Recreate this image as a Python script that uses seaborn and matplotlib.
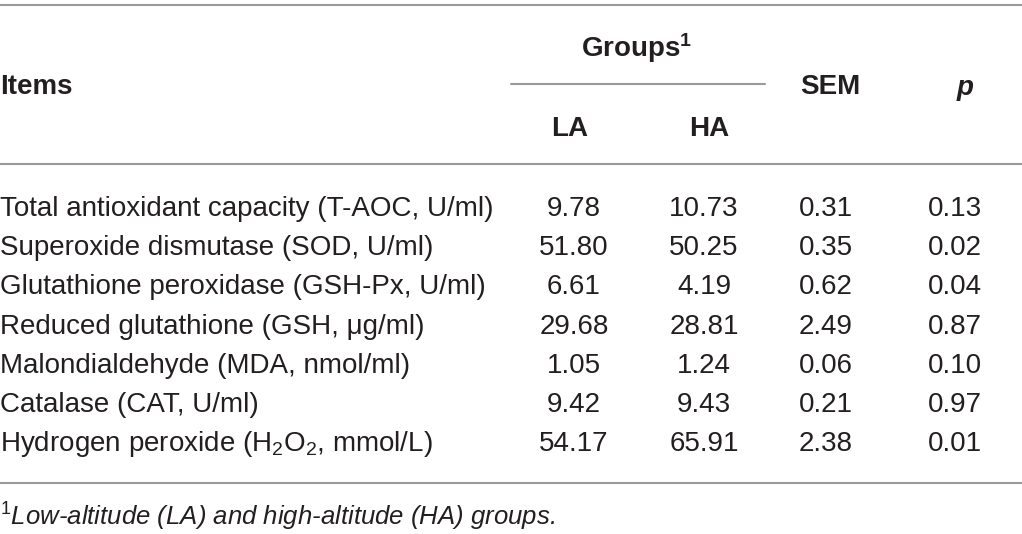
import seaborn as sns
import matplotlib.pyplot as plt

items = [
    "Total antioxidant capacity (T-AOC, U/ml)",
    "Superoxide dismutase (SOD, U/ml)",
    "Glutathione peroxidase (GSH-Px, U/ml)",
    "Reduced glutathione (GSH, μg/ml)",
    "Malondialdehyde (MDA, nmol/ml)",
    "Catalase (CAT, U/ml)",
    r"Hydrogen peroxide (H$_2$O$_2$, mmol/L)",
]
la = ["9.78", "51.80", "6.61", "29.68", "1.05", "9.42", "54.17"]
ha = ["10.73", "50.25", "4.19", "28.81", "1.24", "9.43", "65.91"]
sem = ["0.31", "0.35", "0.62", "2.49", "0.06", "0.21", "2.38"]
pval = ["0.13", "0.02", "0.04", "0.87", "0.10", "0.97", "0.01"]
footnote = r"$^{\mathit{1}}$Low-altitude (LA) and high-altitude (HA) groups."

sns.set_theme(style="white")
plt.rcParams["font.family"] = ["Liberation Sans", "DejaVu Sans"]
plt.rcParams["mathtext.fontset"] = "custom"
plt.rcParams["mathtext.rm"] = "Liberation Sans"
plt.rcParams["mathtext.it"] = "Liberation Sans:italic"
plt.rcParams["mathtext.bf"] = "Liberation Sans:bold"

ink = "#231f20"
rule = "#9a9a9a"
fs = 20

fig = plt.figure(figsize=(10.22, 5.34), dpi=100)
ax = fig.add_axes([0, 0, 1, 1])
ax.set_xlim(0, 1022)
ax.set_ylim(534, 0)
ax.axis("off")

# rules
for y in (5, 164, 483):
    ax.axhline(y, color=rule, linewidth=1.5)
ax.plot([511, 765], [84, 84], color=rule, linewidth=1.5)

# header
hdr = dict(fontsize=fs, fontweight="bold", color=ink, va="center")
ax.text(0, 87, "Items", ha="left", **hdr)
ax.text(637, 48, r"Groups$^{\mathbf{1}}$", ha="center", **hdr)
ax.text(570, 129, "LA", ha="center", **hdr)
ax.text(709, 129, "HA", ha="center", **hdr)
ax.text(830, 87, "SEM", ha="center", **hdr)
ax.text(965, 88, "p", ha="center", style="italic", **hdr)

# body
row_y = [209 + i * 39.2 for i in range(len(items))]
cols = [(574, la), (704, ha), (826, sem), (955, pval)]
for i, y in enumerate(row_y):
    ax.text(0, y, items[i], ha="left", va="center", fontsize=fs, color=ink)
    for x, vals in cols:
        ax.text(x, y, vals[i], ha="center", va="center", fontsize=fs, color=ink)

ax.text(0, 517, footnote, ha="left", va="center", fontsize=18.5, style="italic", color=ink)

fig.savefig("out.png", dpi=100)
